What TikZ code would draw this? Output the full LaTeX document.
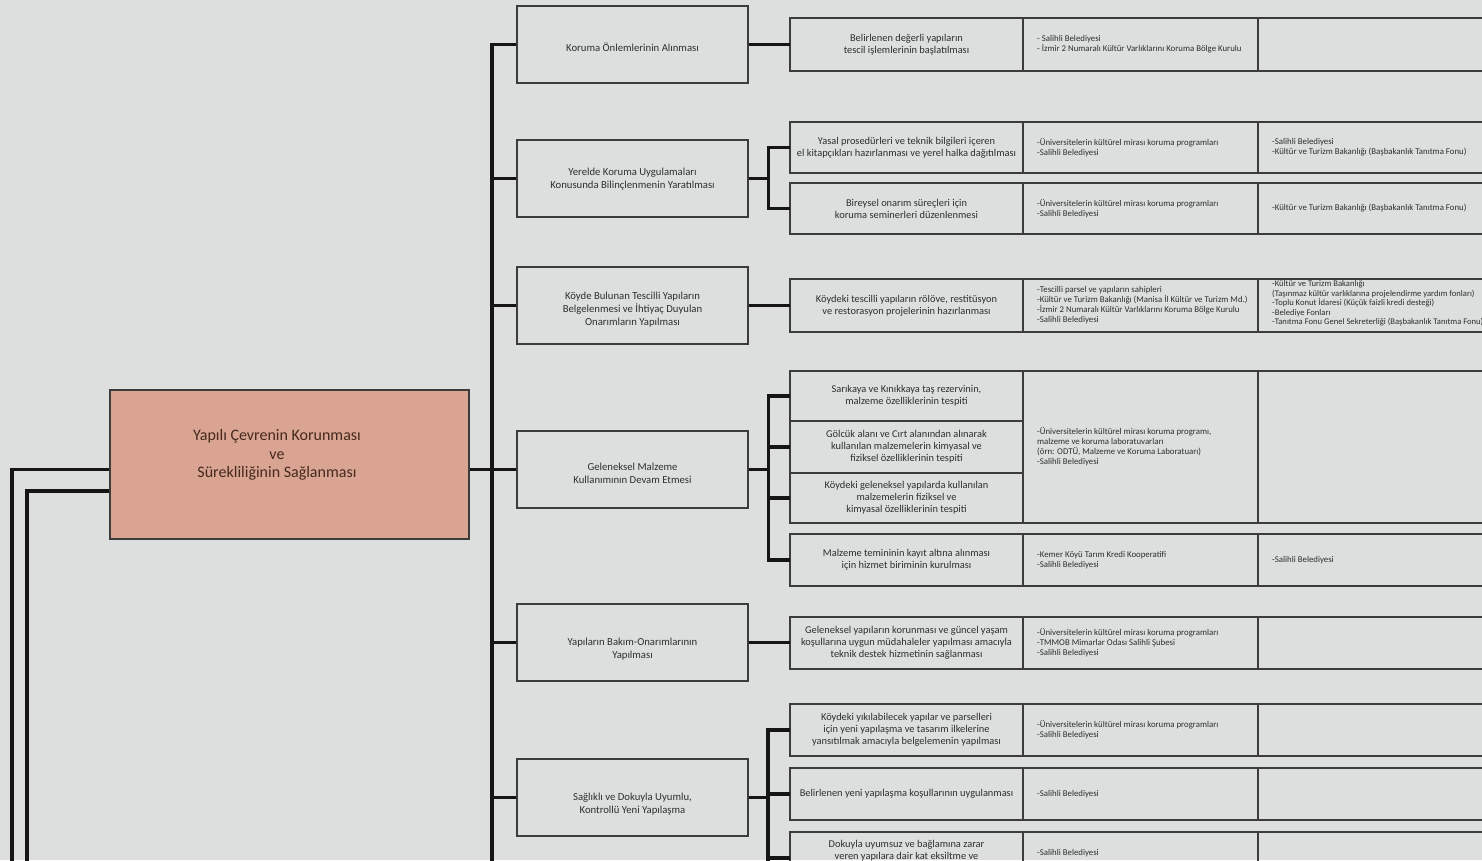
\documentclass[tikz,border=0pt]{standalone}
\usepackage{fontspec}
\setmainfont{Carlito}
\definecolor{bg}{HTML}{DCDFDE}
\definecolor{mainfill}{HTML}{D9A492}
\definecolor{maintext}{HTML}{45291F}
\definecolor{linec}{HTML}{151515}
\definecolor{boxline}{HTML}{3C3C3C}
\definecolor{txt}{HTML}{2E2E2E}
\begin{document}
\begin{tikzpicture}[x=1pt,y=-1pt,
  conn/.style={draw=linec,line width=3.2pt},
  mainbox/.style={draw=boxline,line width=1.4pt,fill=mainfill,minimum width=359pt,minimum height=149pt,inner sep=0pt},
  maintxt/.style={align=center,inner sep=0pt,text=maintext,font=\fontsize{16}{18.5}\selectfont},
  lvl/.style={draw=boxline,line width=1.4pt,minimum width=231pt,minimum height=77pt,inner sep=0pt},
  ltxt/.style={align=center,inner sep=0pt,text=txt,font=\fontsize{10.7}{12.8}\selectfont},
  cell/.style={draw=boxline,line width=1.3pt,anchor=north west,inner sep=0pt,outer sep=0pt},
  colA/.style={cell,minimum width=233pt,align=center,text=txt,font=\fontsize{10.4}{12}\selectfont},
  colB/.style={cell,minimum width=235pt},
  colC/.style={cell,minimum width=262pt},
  ctxt/.style={anchor=west,align=left,inner sep=0pt,text=txt,font=\fontsize{8.8}{10}\selectfont}
]
\useasboundingbox (0,0) rectangle (1482,860);
\clip (0,0) rectangle (1482,860);
\fill[bg] (0,0) rectangle (1482,860);

% main box
\node[mainbox] (main) at (289.5,464.5) {};
\node[maintxt] (maint) at (277,455) {Yapılı Çevrenin Korunması\\ve\\Sürekliliğinin Sağlanması};

% level 1 boxes
\node[lvl] (b1) at (632.5,44.5) {};
\node[lvl] (b2) at (632.5,178.5) {};
\node[lvl] (b3) at (632.5,305.5) {};
\node[lvl] (b4) at (632.5,469.5) {};
\node[lvl] (b5) at (632.5,642.5) {};
\node[lvl] (b6) at (632.5,797.5) {};
\node[ltxt] (b1t) at ([yshift=-3pt]b1.center) {Koruma Önlemlerinin Alınması};
\node[ltxt] (b2t) at ([yshift=-1pt]b2.center) {Yerelde Koruma Uygulamaları\\Konusunda Bilinçlenmenin Yaratılması};
\node[ltxt] (b3t) at ([yshift=-4pt]b3.center) {Köyde Bulunan Tescilli Yapıların\\Belgelenmesi ve İhtiyaç Duyulan\\Onarımların Yapılması};
\node[ltxt] (b4t) at ([yshift=-4pt]b4.center) {Geleneksel Malzeme\\Kullanımının Devam Etmesi};
\node[ltxt] (b5t) at ([yshift=-7pt]b5.center) {Yapıların Bakım-Onarımlarının\\Yapılması};
\node[ltxt] (b6t) at ([yshift=-7pt]b6.center) {Sağlıklı ve Dokuyla Uyumlu,\\Kontrollü Yeni Yapılaşma};

% row 1
\node[colA,minimum height=53pt] (r1a) at (790,18) {Belirlenen değerli yapıların\\tescil işlemlerinin başlatılması};
\node[colB,minimum height=53pt] (r1b) at (1023,18) {};
\node[colC,minimum height=53pt] (r1c) at (1258,18) {};
\node[ctxt] (t1b) at ([xshift=14pt]r1b.west) {- Salihli Belediyesi\\- İzmir 2 Numaralı Kültür Varlıklarını Koruma Bölge Kurulu};

% row 2
\node[colA,minimum height=51pt] (r2a) at (790,122) {Yasal prosedürleri ve teknik bilgileri içeren\\el kitapçıkları hazırlanması ve yerel halka dağıtılması};
\node[colB,minimum height=51pt] (r2ab) at (1023,122) {};
\node[colC,minimum height=51pt] (r2ac) at (1258,122) {};
\node[ctxt] (t2ab) at ([xshift=14pt]r2ab.west) {-Üniversitelerin kültürel mirası koruma programları\\-Salihli Belediyesi};
\node[ctxt] (t2ac) at ([xshift=14pt]r2ac.west) {-Salihli Belediyesi\\-Kültür ve Turizm Bakanlığı (Başbakanlık Tanıtma Fonu)};

\node[colA,minimum height=51pt] (r2b) at (790,183) {Bireysel onarım süreçleri için\\koruma seminerleri düzenlenmesi};
\node[colB,minimum height=51pt] (r2bb) at (1023,183) {};
\node[colC,minimum height=51pt] (r2bc) at (1258,183) {};
\node[ctxt] (t2bb) at ([xshift=14pt]r2bb.west) {-Üniversitelerin kültürel mirası koruma programları\\-Salihli Belediyesi};
\node[ctxt] (t2bc) at ([xshift=14pt]r2bc.west) {-Kültür ve Turizm Bakanlığı (Başbakanlık Tanıtma Fonu)};

% row 3
\node[colA,minimum height=53pt] (r3a) at (790,279) {Köydeki tescilli yapıların rölöve, restitüsyon\\ve restorasyon projelerinin hazırlanması};
\node[colB,minimum height=53pt] (r3b) at (1023,279) {};
\node[colC,minimum height=53pt] (r3c) at (1258,279) {};
\node[ctxt] (t3b) at ([xshift=14pt]r3b.west) {-Tescilli parsel ve yapıların sahipleri\\-Kültür ve Turizm Bakanlığı (Manisa İl Kültür ve Turizm Md.)\\-İzmir 2 Numaralı Kültür Varlıklarını Koruma Bölge Kurulu\\-Salihli Belediyesi};
\node[ctxt,font=\fontsize{8.6}{9.4}\selectfont] (t3c) at ([xshift=14pt,yshift=2pt]r3c.west) {-Kültür ve Turizm Bakanlığı\\(Taşınmaz kültür varlıklarına projelendirme yardım fonları)\\-Toplu Konut İdaresi (Küçük faizli kredi desteği)\\-Belediye Fonları\\-Tanıtma Fonu Genel Sekreterliği (Başbakanlık Tanıtma Fonu)};

% row 4
\node[colA,minimum height=50pt] (r4a) at (790,371) {Sarıkaya ve Kınıkkaya taş rezervinin,\\malzeme özelliklerinin tespiti};
\node[colA,minimum height=52pt] (r4b) at (790,421) {Gölcük alanı ve Cırt alanından alınarak\\kullanılan malzemelerin kimyasal ve\\fiziksel özelliklerinin tespiti};
\node[colA,minimum height=50pt] (r4c) at (790,473) {Köydeki geleneksel yapılarda kullanılan\\malzemelerin fiziksel ve\\kimyasal özelliklerinin tespiti};
\node[colB,minimum height=152pt] (r4b2) at (1023,371) {};
\node[colC,minimum height=152pt] (r4c2) at (1258,371) {};
\node[ctxt] (t4b) at ([xshift=14pt]r4b2.west) {-Üniversitelerin kültürel mirası koruma programı,\\malzeme ve koruma laboratuvarları\\(örn: ODTÜ, Malzeme ve Koruma Laboratuarı)\\-Salihli Belediyesi};

\node[colA,minimum height=52pt] (r4d) at (790,534) {Malzeme temininin kayıt altına alınması\\için hizmet biriminin kurulması};
\node[colB,minimum height=52pt] (r4db) at (1023,534) {};
\node[colC,minimum height=52pt] (r4dc) at (1258,534) {};
\node[ctxt] (t4db) at ([xshift=14pt]r4db.west) {-Kemer Köyü Tarım Kredi Kooperatifi\\-Salihli Belediyesi};
\node[ctxt] (t4dc) at ([xshift=14pt]r4dc.west) {-Salihli Belediyesi};

% row 5
\node[colA,minimum height=52pt] (r5a) at (790,617) {Geleneksel yapıların korunması ve güncel yaşam\\koşullarına uygun müdahaleler yapılması amacıyla\\teknik destek hizmetinin sağlanması};
\node[colB,minimum height=52pt] (r5b) at (1023,617) {};
\node[colC,minimum height=52pt] (r5c) at (1258,617) {};
\node[ctxt] (t5b) at ([xshift=14pt]r5b.west) {-Üniversitelerin kültürel mirası koruma programları\\-TMMOB Mimarlar Odası Salihli Şubesi\\-Salihli Belediyesi};

% row 6
\node[colA,minimum height=52pt] (r6a) at (790,704) {Köydeki yıkılabilecek yapılar ve parselleri\\için yeni yapılaşma ve tasarım ilkelerine\\yansıtılmak amacıyla belgelemenin yapılması};
\node[colB,minimum height=52pt] (r6ab) at (1023,704) {};
\node[colC,minimum height=52pt] (r6ac) at (1258,704) {};
\node[ctxt] (t6ab) at ([xshift=14pt]r6ab.west) {-Üniversitelerin kültürel mirası koruma programları\\-Salihli Belediyesi};

\node[colA,minimum height=52pt] (r6b) at (790,768) {Belirlenen yeni yapılaşma koşullarının uygulanması};
\node[colB,minimum height=52pt] (r6bb) at (1023,768) {};
\node[colC,minimum height=52pt] (r6bc) at (1258,768) {};
\node[ctxt] (t6bb) at ([xshift=14pt]r6bb.west) {-Salihli Belediyesi};

\node[cell,minimum width=233pt,minimum height=52pt] (r6c) at (790,832) {};
\node[colB,minimum height=52pt] (r6cb) at (1023,832) {};
\node[colC,minimum height=52pt] (r6cc) at (1258,832) {};
\node[align=center,inner sep=0pt,text=txt,font=\fontsize{10.4}{12}\selectfont,anchor=north] (t6c) at ([yshift=-8pt]r6c.north) {Dokuyla uyumsuz ve bağlamına zarar\\veren yapılara dair kat eksiltme ve};
\node[ctxt] (t6cb) at ([xshift=14pt,yshift=-21pt]r6cb.north west) {-Salihli Belediyesi};

% free ends
\coordinate (trunkBot) at (492,880);
\coordinate (outA) at (12,880);
\coordinate (outB) at (27,880);
\coordinate (s6end) at (768,880);

% connectors
\draw[conn] (b1.west) -| (trunkBot);
\foreach \b in {b2,b3,b4,b5,b6} \draw[conn] (\b.west) -- (\b.west -| trunkBot);
\draw[conn] (b4.west -| main.east) -- (b4.west -| trunkBot);
\draw[conn] (b4.west -| main.west) -| (outA);
\draw[conn] ([yshift=-21.5pt]b4.west -| main.west) -| (outB);

\draw[conn] (b1.east) -- (b1.east -| r1a.west);
\draw[conn] (b3.east) -- (b3.east -| r3a.west);
\draw[conn] (b5.east) -- (b5.east -| r5a.west);

\draw[conn] (b2.east) -- ++(20,0) coordinate (s2);
\draw[conn] (r2a.west) -| (s2) |- (r2b.west);

\draw[conn] (b4.east) -- ++(20,0) coordinate (s4);
\draw[conn] (r4a.west) -| (s4 |- r4d.west) -- (r4d.west);
\draw[conn] (r4b.west) -- (r4b.west -| s4);
\draw[conn] (r4c.west) -- (r4c.west -| s4);

\draw[conn] (b6.east) -- ++(20,0) coordinate (s6);
\draw[conn] (r6a.west) -| (s6end);
\draw[conn] (r6b.west) -- (r6b.west -| s6end);
\draw[conn] (r6c.west) -- (r6c.west -| s6end);
\end{tikzpicture}
\end{document}
